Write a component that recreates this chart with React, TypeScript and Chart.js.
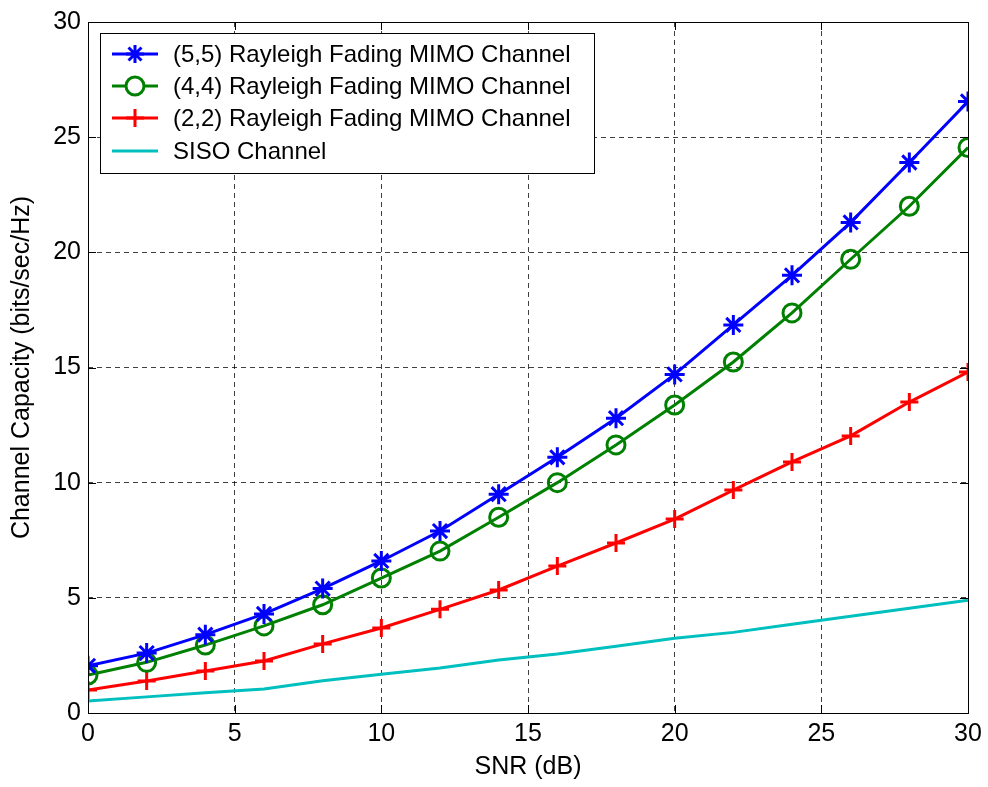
import React, { useEffect, useRef } from 'react';
import { Chart, registerables } from 'chart.js';

Chart.register(...registerables);

// SNR sweep (dB)
const snrDb = [0, 2, 4, 6, 8, 10, 12, 14, 16, 18, 20, 22, 24, 26, 28, 30];

// Ergodic capacity (bits/sec/Hz) for each antenna configuration
const mimo55 = [2.05, 2.6, 3.4, 4.3, 5.4, 6.6, 7.9, 9.5, 11.1, 12.8, 14.7, 16.85, 19.0, 21.3, 23.9, 26.55];
const mimo44 = [1.65, 2.2, 2.95, 3.78, 4.7, 5.86, 7.03, 8.5, 10.0, 11.64, 13.37, 15.24, 17.37, 19.7, 22.0, 24.55];
const mimo22 = [1.0, 1.39, 1.82, 2.26, 3.0, 3.69, 4.5, 5.34, 6.38, 7.38, 8.42, 9.68, 10.9, 12.03, 13.5, 14.8];
const siso = [0.52, 0.7, 0.88, 1.04, 1.4, 1.68, 1.95, 2.3, 2.56, 2.9, 3.25, 3.5, 3.85, 4.2, 4.55, 4.9];

const seriesLabels = [
  '(5,5) Rayleigh Fading MIMO Channel',
  '(4,4) Rayleigh Fading MIMO Channel',
  '(2,2) Rayleigh Fading MIMO Channel',
  'SISO Channel',
];

const xTicks = [0, 5, 10, 15, 20, 25, 30];
const yTicks = [0, 5, 10, 15, 20, 25, 30];

const FONT = '"Liberation Sans", Arial, Helvetica, sans-serif';

type Marker = 'star' | 'circle' | 'cross' | 'none';

function drawMarker(ctx: CanvasRenderingContext2D, kind: Marker, x: number, y: number, r: number, color: string) {
  ctx.save();
  ctx.strokeStyle = color;
  ctx.lineWidth = 3;
  ctx.beginPath();
  if (kind === 'circle') {
    ctx.fillStyle = '#fff';
    ctx.arc(x, y, r, 0, Math.PI * 2);
    ctx.fill();
    ctx.stroke();
  } else if (kind === 'cross') {
    ctx.moveTo(x - r, y);
    ctx.lineTo(x + r, y);
    ctx.moveTo(x, y - r);
    ctx.lineTo(x, y + r);
    ctx.stroke();
  } else if (kind === 'star') {
    ctx.moveTo(x - r, y);
    ctx.lineTo(x + r, y);
    ctx.moveTo(x, y - r);
    ctx.lineTo(x, y + r);
    const d = r * 0.72;
    ctx.moveTo(x - d, y - d);
    ctx.lineTo(x + d, y + d);
    ctx.moveTo(x - d, y + d);
    ctx.lineTo(x + d, y - d);
    ctx.stroke();
  }
  ctx.restore();
}

// Axes box with inward tick marks on all four sides, plus the boxed legend
const framePlugin = {
  id: 'frameAndLegend',
  afterDatasetsDraw(chart: any) {
    const { ctx, chartArea } = chart;
    const { left, right, top, bottom } = chartArea;
    const xs = chart.scales.x;
    const ys = chart.scales.y;
    ctx.save();
    ctx.strokeStyle = '#000';
    ctx.lineWidth = 1;
    ctx.strokeRect(Math.round(left) + 0.5, Math.round(top) + 0.5, Math.round(right - left), Math.round(bottom - top));
    const tl = 8;
    ctx.beginPath();
    xTicks.forEach((v) => {
      const px = Math.round(xs.getPixelForValue(v)) + 0.5;
      ctx.moveTo(px, bottom);
      ctx.lineTo(px, bottom - tl);
      ctx.moveTo(px, top);
      ctx.lineTo(px, top + tl);
    });
    yTicks.forEach((v) => {
      const py = Math.round(ys.getPixelForValue(v)) + 0.5;
      ctx.moveTo(left, py);
      ctx.lineTo(left + tl, py);
      ctx.moveTo(right, py);
      ctx.lineTo(right - tl, py);
    });
    ctx.stroke();
    ctx.restore();

    // legend
    const lx = left + 12;
    const ly = top + 11;
    const lw = 494;
    const lh = 140;
    ctx.save();
    ctx.fillStyle = '#fff';
    ctx.fillRect(lx, ly, lw, lh);
    ctx.strokeStyle = '#000';
    ctx.lineWidth = 1;
    ctx.strokeRect(lx + 0.5, ly + 0.5, lw, lh);
    const markers: Marker[] = ['star', 'circle', 'cross', 'none'];
    const rowY = [21, 53, 85, 118];
    chart.data.datasets.forEach((ds: any, i: number) => {
      const cy = ly + rowY[i];
      ctx.strokeStyle = ds.borderColor;
      ctx.lineWidth = 3;
      ctx.beginPath();
      ctx.moveTo(lx + 12, cy);
      ctx.lineTo(lx + 58, cy);
      ctx.stroke();
      drawMarker(ctx, markers[i], lx + 35, cy, 9, ds.borderColor);
      ctx.fillStyle = '#000';
      ctx.font = `24px ${FONT}`;
      ctx.textBaseline = 'middle';
      ctx.textAlign = 'left';
      ctx.fillText(ds.label, lx + 73, cy + 1);
    });
    ctx.restore();
  },
};

export default function App() {
  const canvasRef = useRef<HTMLCanvasElement | null>(null);

  useEffect(() => {
    if (!canvasRef.current) return;
    const toPts = (ys: number[]) => snrDb.map((x, i) => ({ x, y: ys[i] }));
    const gridCfg = {
      color: 'rgba(0,0,0,0.75)',
      lineWidth: 1,
      drawTicks: false,
    };
    const chart = new Chart(canvasRef.current, {
      type: 'line',
      data: {
        datasets: [
          {
            label: seriesLabels[0],
            data: toPts(mimo55),
            borderColor: '#0000ff',
            backgroundColor: '#0000ff',
            borderWidth: 3,
            pointStyle: 'star',
            pointRadius: 10,
            pointBorderWidth: 3,
            fill: false,
          },
          {
            label: seriesLabels[1],
            data: toPts(mimo44),
            borderColor: '#008000',
            backgroundColor: 'rgba(255,255,255,0)',
            borderWidth: 3,
            pointStyle: 'circle',
            pointRadius: 9,
            pointBorderWidth: 3,
            fill: false,
          },
          {
            label: seriesLabels[2],
            data: toPts(mimo22),
            borderColor: '#ff0000',
            backgroundColor: '#ff0000',
            borderWidth: 3,
            pointStyle: 'cross',
            pointRadius: 9,
            pointBorderWidth: 3,
            fill: false,
          },
          {
            label: seriesLabels[3],
            data: toPts(siso),
            borderColor: '#00bfbf',
            backgroundColor: '#00bfbf',
            borderWidth: 3,
            pointRadius: 0,
            fill: false,
          },
        ],
      },
      options: {
        responsive: false,
        animation: false,
        events: [],
        layout: { padding: { left: 0, top: 22, right: 20, bottom: 0 } },
        plugins: {
          legend: { display: false },
          tooltip: { enabled: false },
        },
        scales: {
          x: {
            type: 'linear',
            min: 0,
            max: 30,
            afterFit: (s: any) => {
              s.height = 74;
            },
            afterBuildTicks: (s: any) => {
              s.ticks = xTicks.map((v) => ({ value: v }));
            },
            border: { display: false, dash: [5, 4] },
            grid: gridCfg,
            ticks: {
              color: '#000',
              padding: 6,
              font: { family: FONT, size: 25 },
              maxRotation: 0,
            },
            title: {
              display: true,
              text: 'SNR (dB)',
              color: '#000',
              font: { family: FONT, size: 25 },
              padding: { top: 0, bottom: 5 },
            },
          },
          y: {
            type: 'linear',
            min: 0,
            max: 30,
            afterFit: (s: any) => {
              s.width = 88;
            },
            afterBuildTicks: (s: any) => {
              s.ticks = yTicks.map((v) => ({ value: v }));
            },
            border: { display: false, dash: [5, 4] },
            grid: gridCfg,
            ticks: {
              color: '#000',
              padding: 7,
              font: { family: FONT, size: 25 },
            },
            title: {
              display: true,
              text: 'Channel Capacity (bits/sec/Hz)',
              color: '#000',
              font: { family: FONT, size: 25 },
              padding: { top: 7, bottom: 0 },
            },
          },
        },
        elements: {
          line: { tension: 0 },
        },
      } as any,
      plugins: [framePlugin],
    });
    return () => chart.destroy();
  }, []);

  return (
    <div style={{ position: 'absolute', left: 0, top: 0, width: 988, height: 787, background: '#fff' }}>
      <canvas ref={canvasRef} width={988} height={787} style={{ display: 'block' }} />
    </div>
  );
}
